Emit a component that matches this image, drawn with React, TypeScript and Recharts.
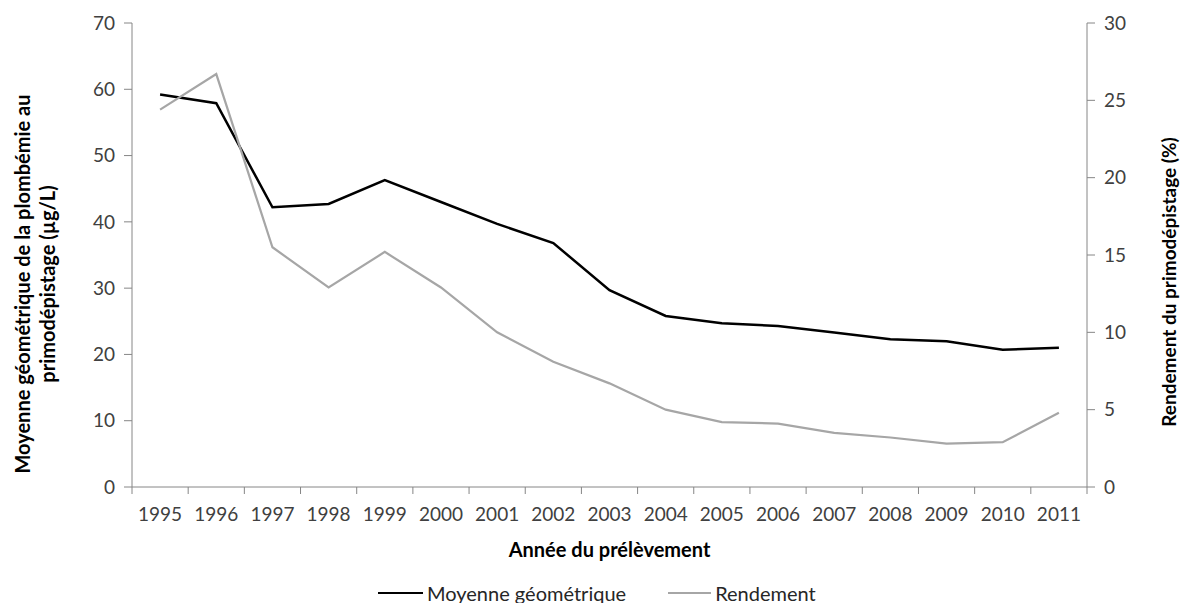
import React from "react";
import { LineChart, Line, XAxis, YAxis, Label } from "recharts";

const years = ["1995", "1996", "1997", "1998", "1999", "2000", "2001", "2002", "2003", "2004", "2005", "2006", "2007", "2008", "2009", "2010", "2011"];
const moyenne = [59.2, 57.9, 42.2, 42.7, 46.3, 43.0, 39.7, 36.8, 29.7, 25.8, 24.7, 24.3, 23.3, 22.3, 22.0, 20.7, 21.0];
const rendement = [24.4, 26.7, 15.5, 12.9, 15.2, 12.9, 10.0, 8.1, 6.7, 5.0, 4.2, 4.1, 3.5, 3.2, 2.8, 2.9, 4.8];
const leftTicks = [0, 10, 20, 30, 40, 50, 60, 70];
const rightTicks = [0, 5, 10, 15, 20, 25, 30];

const data = years.map((y, i) => ({ year: y, moyenne: moyenne[i], rendement: rendement[i] }));

const FONT = "Lato, 'Open Sans', sans-serif";
const AXIS = "#868686";
const TICK_TEXT = "#404040";
const BLACK = "#000000";
const GRAY = "#a6a6a6";

const W = 1182;
const H = 603;
const MARGIN = { top: 23, right: 35, left: 52, bottom: 0 };
const LEFT_W = 80;
const RIGHT_W = 60;
const plotW = W - MARGIN.left - MARGIN.right - LEFT_W - RIGHT_W;
const halfBand = plotW / years.length / 2;

// Excel-like x ticks: marks sit on category boundaries, labels at centres
const YearTick = (props: any) => {
  const { x, y, payload, index } = props;
  return (
    <g>
      <line x1={x - halfBand} x2={x - halfBand} y1={y} y2={y + 7} stroke={AXIS} />
      {index === years.length - 1 && (
        <line x1={x + halfBand} x2={x + halfBand} y1={y} y2={y + 7} stroke={AXIS} />
      )}
      <text x={x} y={y + 34} textAnchor="middle" fill={TICK_TEXT} fontSize={19} fontFamily={FONT}>
        {payload.value}
      </text>
    </g>
  );
};

const ChartLegend = () => (
  <div
    style={{
      position: "absolute",
      left: 378,
      top: 581,
      display: "flex",
      alignItems: "center",
      fontFamily: FONT,
      fontSize: 20,
      lineHeight: "24px",
      color: "#262626",
      whiteSpace: "nowrap",
    }}
  >
    <span style={{ display: "inline-block", width: 45, height: 2.5, background: BLACK, marginRight: 4 }} />
    <span style={{ marginRight: 42 }}>Moyenne géométrique</span>
    <span style={{ display: "inline-block", width: 43, height: 2, background: GRAY, marginRight: 4 }} />
    <span>Rendement</span>
  </div>
);

export default function App() {
  return (
    <div style={{ position: "absolute", left: 0, top: 0, width: W, height: H, background: "#fff" }}>
      <LineChart width={W} height={H} data={data} margin={MARGIN}>
        <XAxis
          dataKey="year"
          scale="band"
          stroke={AXIS}
          tickLine={false}
          tickSize={0}
          tickMargin={0}
          height={116}
          tick={<YearTick />}
          interval={0}
        >
          <Label
            content={(p: any) => {
              const vb = p.viewBox;
              return (
                <text x={vb.x + vb.width / 2} y={vb.y + 70} textAnchor="middle" fontFamily={FONT} fontWeight="bold" fontSize={20} fill="#000">
                  Année du prélèvement
                </text>
              );
            }}
          />
        </XAxis>
        <YAxis
          yAxisId="left"
          domain={[0, 70]}
          ticks={leftTicks}
          width={LEFT_W}
          stroke={AXIS}
          tickSize={8}
          tickMargin={9}
          tick={{ fill: TICK_TEXT, fontSize: 19, fontFamily: FONT }}
        >
          <Label
            content={(p: any) => {
              const vb = p.viewBox;
              const cy = vb.y + vb.height / 2 + 29;
              return (
                <g fontFamily={FONT} fontWeight="bold" fontSize={20} fill="#000">
                  <text x={22} y={cy} textAnchor="middle" dominantBaseline="central" transform={`rotate(-90 22 ${cy})`}>
                    Moyenne géométrique de la plombémie au
                  </text>
                  <text x={47} y={cy} textAnchor="middle" dominantBaseline="central" transform={`rotate(-90 47 ${cy})`}>
                    primodépistage  (µg/L)
                  </text>
                </g>
              );
            }}
          />
        </YAxis>
        <YAxis
          yAxisId="right"
          orientation="right"
          domain={[0, 30]}
          ticks={rightTicks}
          width={RIGHT_W}
          stroke={AXIS}
          tickSize={8}
          tickMargin={9}
          tick={{ fill: TICK_TEXT, fontSize: 19, fontFamily: FONT }}
        >
          <Label
            content={(p: any) => {
              const vb = p.viewBox;
              const cy = vb.y + vb.height / 2 + 27;
              return (
                <text x={1168} y={cy} textAnchor="middle" dominantBaseline="central" transform={`rotate(-90 1168 ${cy})`} fontFamily={FONT} fontWeight="bold" fontSize={19} fill="#000">
                  Rendement du primodépistage (%)
                </text>
              );
            }}
          />
        </YAxis>
        <Line yAxisId="left" type="linear" dataKey="moyenne" name="Moyenne géométrique" stroke={BLACK} strokeWidth={2.5} dot={false} isAnimationActive={false} />
        <Line yAxisId="right" type="linear" dataKey="rendement" name="Rendement" stroke={GRAY} strokeWidth={2.2} dot={false} isAnimationActive={false} />
      </LineChart>
      <ChartLegend />
    </div>
  );
}
